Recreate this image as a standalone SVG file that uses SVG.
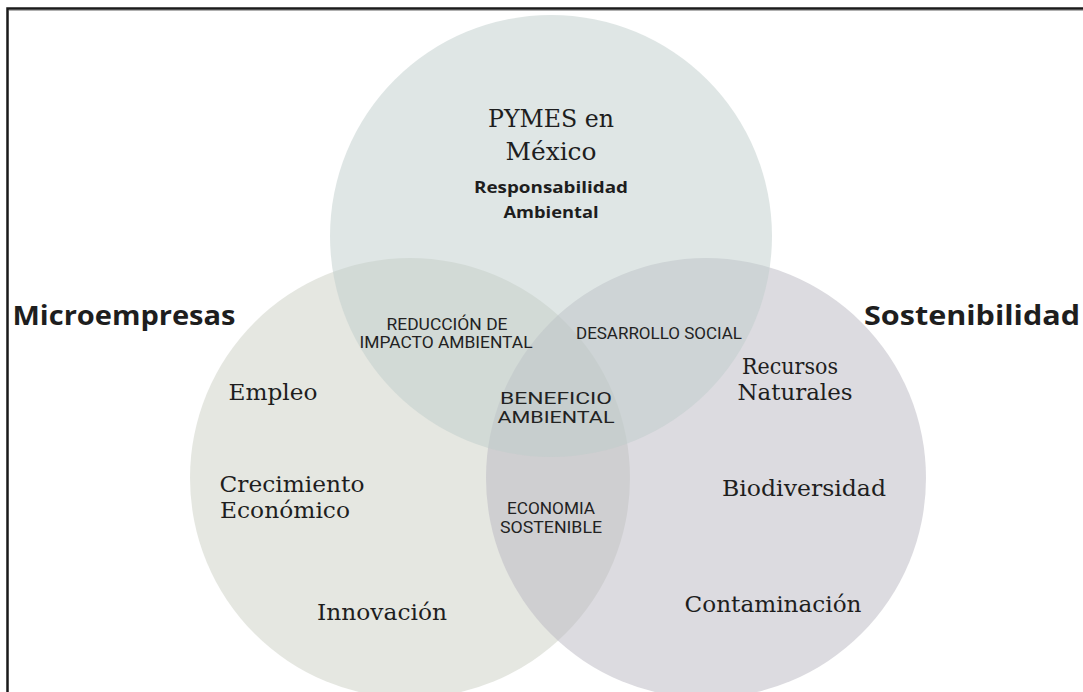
<svg xmlns="http://www.w3.org/2000/svg" width="1083" height="692" viewBox="0 0 1083 692">
<style>
.c{stroke:none}
.serif{font-family:"DejaVu Serif","Liberation Serif",serif;fill:#1e1e1e;text-anchor:middle}
.bold{font-family:"Open Sans","DejaVu Sans",sans-serif;font-weight:bold;fill:#1e1e1e;text-anchor:middle}
.cond{font-family:Roboto,"Liberation Sans",sans-serif;font-weight:normal;fill:#222;text-anchor:middle}
</style>
<rect width="1083" height="692" fill="#ffffff"/>
<g id="frame">
<path d="M1083 8.5 H7.5 V692" fill="none" stroke="#1a1a1a" stroke-width="2.5"/>
<line x1="9" y1="10.5" x2="1083" y2="10.5" stroke="#b0b0b0" stroke-width="1"/>
</g>
<g id="circle-micro">
<circle class="c" cx="410" cy="478" r="220" fill="#cbcfc3" fill-opacity="0.5"/>
</g>
<g id="circle-sost">
<circle class="c" cx="706" cy="478" r="220" fill="#b9b7c1" fill-opacity="0.5"/>
</g>
<g id="circle-pymes">
<circle class="c" cx="551" cy="236" r="221" fill="#bfcdcb" fill-opacity="0.5"/>
</g>
<g id="connectors"></g>
<g id="label-pymes">
<text class="serif" x="551" y="127" font-size="25" textLength="126" lengthAdjust="spacingAndGlyphs">PYMES en</text>
<text class="serif" x="551" y="160" font-size="25" textLength="91" lengthAdjust="spacingAndGlyphs">México</text>
<text class="bold" x="551" y="193" font-size="16" textLength="154" lengthAdjust="spacingAndGlyphs">Responsabilidad</text>
<text class="bold" x="551" y="218" font-size="16" textLength="95" lengthAdjust="spacingAndGlyphs">Ambiental</text>
</g>
<g id="label-micro">
<text class="bold" x="124" y="325" font-size="26" textLength="223" lengthAdjust="spacingAndGlyphs">Microempresas</text>
<text class="serif" x="273" y="400" font-size="23" textLength="89" lengthAdjust="spacingAndGlyphs">Empleo</text>
<text class="serif" x="292" y="492" font-size="23" textLength="145" lengthAdjust="spacingAndGlyphs">Crecimiento</text>
<text class="serif" x="285" y="518" font-size="23" textLength="130" lengthAdjust="spacingAndGlyphs">Económico</text>
<text class="serif" x="382" y="620" font-size="23" textLength="130" lengthAdjust="spacingAndGlyphs">Innovación</text>
</g>
<g id="label-sost">
<text class="bold" x="972" y="325" font-size="26" textLength="216" lengthAdjust="spacingAndGlyphs">Sostenibilidad</text>
<text class="serif" x="790" y="374" font-size="23" textLength="96" lengthAdjust="spacingAndGlyphs">Recursos</text>
<text class="serif" x="795" y="400" font-size="23" textLength="115" lengthAdjust="spacingAndGlyphs">Naturales</text>
<text class="serif" x="804" y="496" font-size="23" textLength="164" lengthAdjust="spacingAndGlyphs">Biodiversidad</text>
<text class="serif" x="773" y="612" font-size="23" textLength="177" lengthAdjust="spacingAndGlyphs">Contaminación</text>
</g>
<g id="label-reduccion">
<text class="cond" x="447" y="330" font-size="16" textLength="121" lengthAdjust="spacingAndGlyphs">REDUCCIÓN DE</text>
<text class="cond" x="446" y="348" font-size="16" textLength="173" lengthAdjust="spacingAndGlyphs">IMPACTO AMBIENTAL</text>
</g>
<g id="label-desarrollo">
<text class="cond" x="659" y="339" font-size="16" textLength="166" lengthAdjust="spacingAndGlyphs">DESARROLLO SOCIAL</text>
</g>
<g id="label-beneficio">
<text class="cond" x="556" y="404" font-size="17" textLength="112" lengthAdjust="spacingAndGlyphs">BENEFICIO</text>
<text class="cond" x="556" y="423" font-size="17" textLength="117" lengthAdjust="spacingAndGlyphs">AMBIENTAL</text>
</g>
<g id="label-economia">
<text class="cond" x="551" y="514" font-size="16" textLength="88" lengthAdjust="spacingAndGlyphs">ECONOMIA</text>
<text class="cond" x="551" y="533" font-size="16" textLength="102" lengthAdjust="spacingAndGlyphs">SOSTENIBLE</text>
</g>
</svg>
